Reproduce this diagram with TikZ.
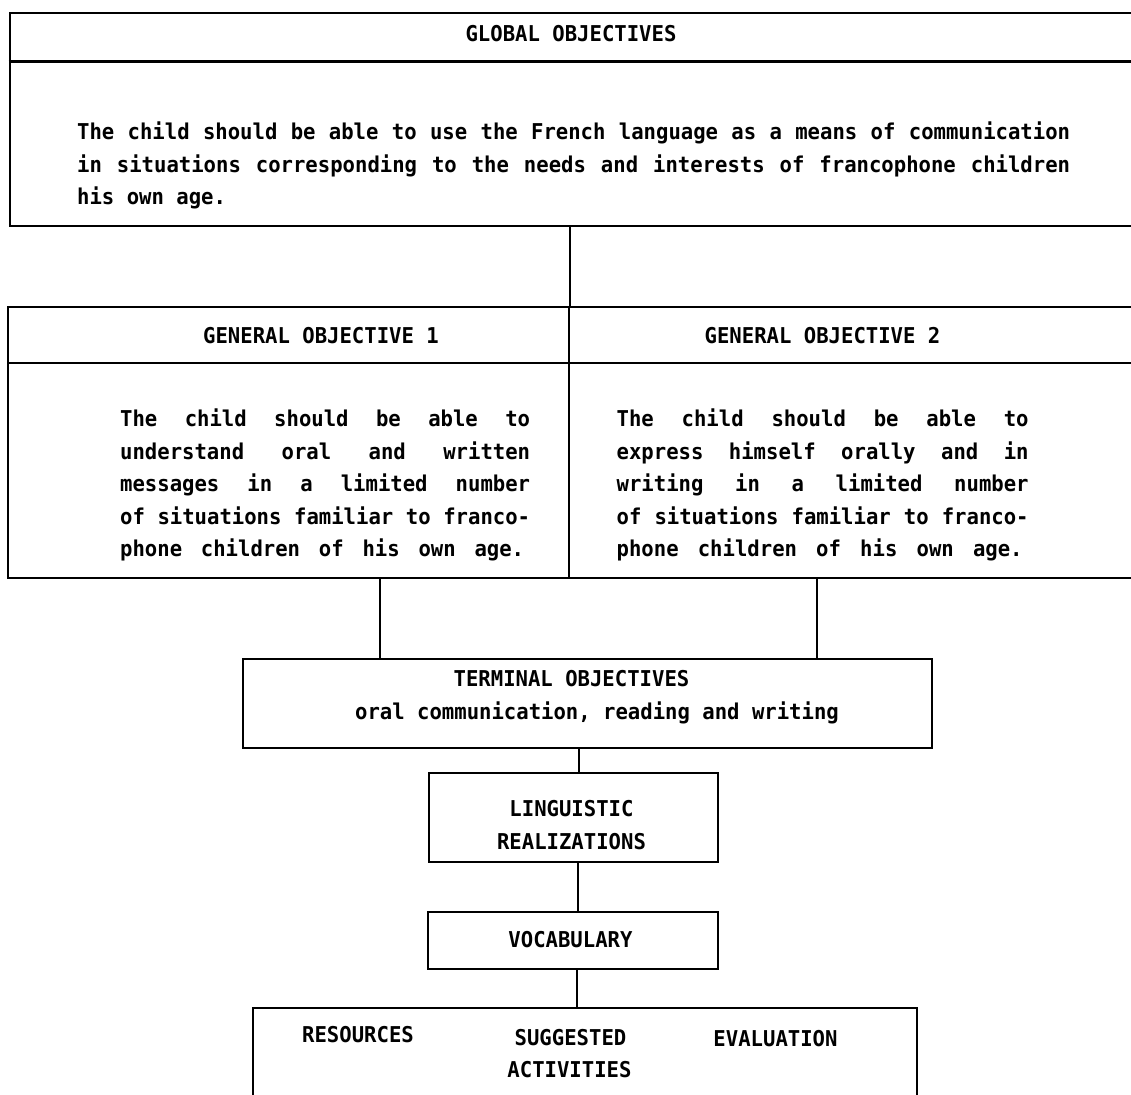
\documentclass[tikz,border=0pt]{standalone}
\usepackage{fontspec}
\newfontfamily\dm[FakeStretch=0.945]{DejaVu Sans Mono}
\newcommand\jl[2]{\hbox to #1{\spaceskip=0.569em plus 1fil minus 0.2em\relax #2}}
\begin{document}
\begin{tikzpicture}[x=0.5pt,y=-0.5pt,
  line width=1.15pt,
  box/.style={draw,line width=1.15pt,rectangle,inner sep=0pt,anchor=north west},
  txt/.style={inner sep=0pt,anchor=base,font=\dm\bfseries\fontsize{10.9}{13}\selectfont},
  para/.style={inner sep=0pt,anchor=base west,font=\dm\bfseries\fontsize{10.9}{13}\selectfont}]
\useasboundingbox (0,0) rectangle (1131,1095);
\clip (0,0) rectangle (1131,1095);
\fill[white] (0,0) rectangle (1131,1095);

% boxes
\node[box,minimum width=571pt,minimum height=106.5pt] (global) at (8.5,12) {};
\node[box,minimum width=280.5pt,minimum height=135.5pt] (go1) at (7,306) {};
\node[box,minimum width=290pt,minimum height=135.5pt] (go2) at (568,306) {};
\node[box,minimum width=344.5pt,minimum height=44.5pt] (terminal) at (242,658) {};
\node[box,minimum width=144.5pt,minimum height=44.5pt] (ling) at (428,772) {};
\node[box,minimum width=144.75pt,minimum height=28.5pt] (vocab) at (427,911) {};
\node[box,minimum width=331.75pt,minimum height=60pt] (bottom) at (252,1007) {};

% header lines
\draw (global.west |- 0,61.5) -- (global.east |- 0,61.5);
\draw (go1.west |- 0,363) -- (go2.east |- 0,363);

% connector x positions
\coordinate (x1) at (380,0);
\coordinate (x2) at (817,0);
\coordinate (xt) at (579,0);
\coordinate (xl) at (578,0);
\coordinate (xv) at (577,0);

% connectors
\draw (global.south -| go1.north east) -- (go1.north east);
\draw (go1.south -| x1) -- (terminal.north -| x1);
\draw (go2.south -| x2) -- (terminal.north -| x2);
\draw (terminal.south -| xt) -- (ling.north -| xt);
\draw (ling.south -| xl) -- (vocab.north -| xl);
\draw (vocab.south -| xv) -- (bottom.north -| xv);

% texts
\node[txt] (gtitle) at (571,41.7) {GLOBAL OBJECTIVES};
\node[para] (gpara) at (76,140) {\vtop{\baselineskip=16.25pt
  \jl{496.5pt}{The child should be able to use the French language as a means of communication}
  \jl{496.5pt}{in situations corresponding to the needs and interests of francophone children}
  \hbox{his own age.}}};

\node[txt] (g1title) at (321,344) {GENERAL OBJECTIVE 1};
\node[txt] (g2title) at (822.5,344) {GENERAL OBJECTIVE 2};

\node[para] (g1para) at (119,427) {\vtop{\baselineskip=16.2pt
  \jl{205pt}{The child should be able to}
  \jl{205pt}{understand oral and written}
  \jl{205pt}{messages in a limited number}
  \jl{205pt}{of situations familiar to franco-}
  \jl{202pt}{phone children of his own age.}}};

\node[para] (g2para) at (615.5,427) {\vtop{\baselineskip=16.2pt
  \jl{206pt}{The child should be able to}
  \jl{206pt}{express himself orally and in}
  \jl{206pt}{writing in a limited number}
  \jl{206pt}{of situations familiar to franco-}
  \jl{203pt}{phone children of his own age.}}};

\node[txt] (tA) at (571.5,687) {TERMINAL OBJECTIVES};
\node[txt] (tB) at (597,720) {oral communication, reading and writing};

\node[txt] (lA) at (571.5,816.7) {LINGUISTIC};
\node[txt] (lB) at (571.5,849.3) {REALIZATIONS};

\node[txt] (vA) at (570.5,947.7) {VOCABULARY};

\node[txt] (rA) at (358,1043) {RESOURCES};
\node[txt] (sA) at (570.5,1046) {SUGGESTED};
\node[txt] (sB) at (569.5,1077.7) {ACTIVITIES};
\node[txt] (eA) at (775.5,1046.7) {EVALUATION};
\end{tikzpicture}
\end{document}
